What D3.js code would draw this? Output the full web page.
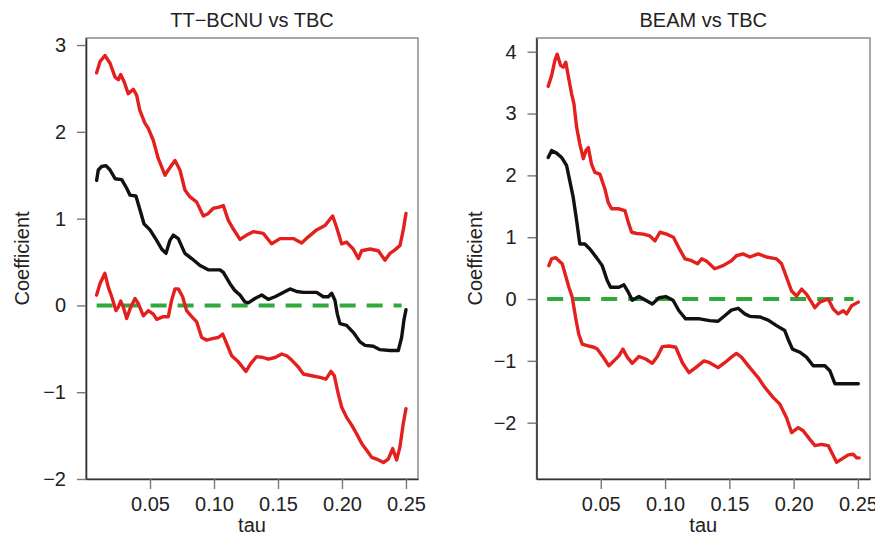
<!DOCTYPE html>
<html>
<head>
<meta charset="utf-8">
<script src="https://cdn.jsdelivr.net/npm/d3@7"></script>
<style>
  body { margin: 0; background: #fff; }
  text { font-family: "Liberation Sans", Arial, Helvetica, sans-serif; fill: #222; }
</style>
</head>
<body>
<div id="chart"></div>
<script>
var svgWidth = 875;
var svgHeight = 535;

// panel titles and tick labels
var panelTitles = ["TT\u2212BCNU vs TBC", "BEAM vs TBC"];
var xTicks = [0.05, 0.10, 0.15, 0.20, 0.25];
var yTicksLeft = [-2, -1, 0, 1, 2, 3];
var yTicksRight = [-2, -1, 0, 1, 2, 3, 4];
var zeroLine = [[0.0083, 0], [0.2466, 0]];

// TT-BCNU vs TBC : [tau, coefficient]
var ttUpper = [[0.0083,2.68],[0.011,2.81],[0.0148,2.88],[0.0188,2.79],[0.0227,2.63],[0.0253,2.60],[0.0271,2.66],[0.0297,2.58],[0.033,2.44],[0.037,2.49],[0.0396,2.42],[0.042,2.25],[0.046,2.10],[0.0487,2.04],[0.0526,1.90],[0.0565,1.69],[0.0617,1.50],[0.0643,1.56],[0.0695,1.67],[0.0734,1.56],[0.0773,1.33],[0.0813,1.25],[0.0865,1.19],[0.0917,1.03],[0.0956,1.06],[0.0995,1.12],[0.1034,1.13],[0.1073,1.15],[0.1112,0.98],[0.1151,0.88],[0.1203,0.76],[0.1255,0.81],[0.1307,0.85],[0.1385,0.83],[0.145,0.71],[0.1516,0.77],[0.162,0.77],[0.1685,0.72],[0.1737,0.79],[0.1802,0.87],[0.1867,0.92],[0.1927,1.03],[0.1958,0.90],[0.1997,0.71],[0.2036,0.73],[0.2088,0.65],[0.2128,0.54],[0.2154,0.63],[0.2219,0.65],[0.2284,0.63],[0.2336,0.52],[0.2375,0.60],[0.2414,0.64],[0.2453,0.69],[0.2479,0.87],[0.25,1.06]];
var ttCoef = [[0.0083,1.44],[0.0096,1.56],[0.0122,1.60],[0.0156,1.61],[0.0188,1.56],[0.0227,1.46],[0.0279,1.45],[0.0318,1.35],[0.0344,1.27],[0.039,1.26],[0.0422,1.10],[0.0453,0.94],[0.05,0.87],[0.0552,0.75],[0.0591,0.65],[0.0625,0.60],[0.0656,0.75],[0.0682,0.81],[0.0721,0.77],[0.0773,0.60],[0.0826,0.54],[0.0891,0.46],[0.0955,0.41],[0.1047,0.41],[0.1073,0.38],[0.1125,0.25],[0.1164,0.17],[0.1203,0.12],[0.1242,0.04],[0.1268,0.03],[0.132,0.08],[0.1373,0.12],[0.1424,0.07],[0.1477,0.10],[0.1541,0.15],[0.1594,0.19],[0.1646,0.16],[0.1698,0.15],[0.1802,0.15],[0.1854,0.10],[0.1893,0.10],[0.192,0.14],[0.1945,0.06],[0.1964,-0.10],[0.1984,-0.21],[0.2036,-0.23],[0.2088,-0.31],[0.2141,-0.42],[0.218,-0.46],[0.2245,-0.47],[0.2297,-0.51],[0.2375,-0.52],[0.244,-0.52],[0.2466,-0.37],[0.2484,-0.17],[0.25,-0.05]];
var ttLower = [[0.0083,0.12],[0.0109,0.25],[0.0148,0.37],[0.0174,0.21],[0.0201,0.10],[0.0234,-0.06],[0.0253,-0.02],[0.0271,0.05],[0.0292,-0.02],[0.0318,-0.15],[0.0349,-0.02],[0.0383,0.08],[0.0409,0.02],[0.0448,-0.12],[0.0487,-0.06],[0.0526,-0.10],[0.0552,-0.16],[0.0604,-0.13],[0.0643,-0.13],[0.0669,0.06],[0.0695,0.19],[0.0721,0.19],[0.0755,0.10],[0.0786,-0.06],[0.0826,-0.13],[0.0865,-0.19],[0.0904,-0.37],[0.0943,-0.40],[0.0995,-0.38],[0.1034,-0.37],[0.1068,-0.33],[0.1099,-0.44],[0.1138,-0.58],[0.119,-0.65],[0.125,-0.76],[0.1287,-0.67],[0.1333,-0.59],[0.1385,-0.60],[0.1424,-0.62],[0.1477,-0.60],[0.1529,-0.56],[0.1568,-0.58],[0.1607,-0.63],[0.1659,-0.71],[0.1698,-0.79],[0.1763,-0.81],[0.1828,-0.83],[0.1875,-0.85],[0.1914,-0.76],[0.194,-0.81],[0.1971,-1.02],[0.1997,-1.17],[0.2036,-1.29],[0.2076,-1.38],[0.2115,-1.48],[0.2154,-1.59],[0.2193,-1.67],[0.2232,-1.75],[0.2271,-1.77],[0.2323,-1.81],[0.2362,-1.77],[0.2396,-1.65],[0.2427,-1.78],[0.2453,-1.63],[0.2479,-1.36],[0.25,-1.19]];

// BEAM vs TBC : [tau, coefficient]
var beamUpper = [[0.0091,3.44],[0.0117,3.61],[0.0143,3.86],[0.0161,3.96],[0.0187,3.78],[0.0208,3.75],[0.0228,3.83],[0.0247,3.61],[0.0273,3.32],[0.0291,3.16],[0.0312,2.78],[0.0337,2.51],[0.0364,2.27],[0.0384,2.40],[0.0403,2.45],[0.0428,2.18],[0.0454,2.05],[0.0493,2.02],[0.0532,1.78],[0.0558,1.56],[0.0584,1.46],[0.0636,1.46],[0.0688,1.43],[0.0714,1.24],[0.074,1.08],[0.0779,1.06],[0.0831,1.05],[0.0882,1.02],[0.0921,0.94],[0.096,1.08],[0.1012,1.05],[0.1065,1.00],[0.1104,0.84],[0.1155,0.65],[0.1207,0.62],[0.1252,0.57],[0.1285,0.65],[0.1324,0.61],[0.1386,0.49],[0.1451,0.54],[0.1516,0.62],[0.1555,0.70],[0.1607,0.73],[0.1659,0.68],[0.1724,0.73],[0.1789,0.68],[0.1867,0.65],[0.1906,0.57],[0.1945,0.35],[0.1984,0.13],[0.2023,0.05],[0.2062,0.16],[0.21,0.08],[0.2139,-0.05],[0.2165,-0.14],[0.2204,-0.05],[0.2269,0.00],[0.2308,-0.16],[0.2347,-0.24],[0.2386,-0.19],[0.2412,-0.24],[0.2451,-0.11],[0.2503,-0.05]];
var beamCoef = [[0.0091,2.29],[0.0117,2.40],[0.0156,2.36],[0.0195,2.29],[0.0234,2.16],[0.0259,1.91],[0.0286,1.64],[0.0312,1.27],[0.0337,0.89],[0.0376,0.89],[0.0415,0.81],[0.0467,0.67],[0.0511,0.54],[0.055,0.30],[0.0576,0.19],[0.0641,0.19],[0.068,0.23],[0.0714,0.11],[0.0745,-0.02],[0.0797,0.04],[0.0849,-0.02],[0.0901,-0.08],[0.0953,0.02],[0.1005,0.04],[0.1062,-0.02],[0.1108,-0.19],[0.116,-0.32],[0.1213,-0.32],[0.1269,-0.32],[0.1347,-0.35],[0.1412,-0.36],[0.1464,-0.27],[0.1516,-0.18],[0.1568,-0.15],[0.162,-0.24],[0.1659,-0.28],[0.1737,-0.29],[0.1802,-0.34],[0.1867,-0.43],[0.1931,-0.51],[0.1957,-0.65],[0.1991,-0.81],[0.2048,-0.86],[0.21,-0.94],[0.2152,-1.08],[0.2243,-1.08],[0.2282,-1.16],[0.2321,-1.37],[0.2412,-1.37],[0.2503,-1.37]];
var beamLower = [[0.0096,0.54],[0.0117,0.65],[0.0148,0.67],[0.0174,0.62],[0.02,0.57],[0.0226,0.38],[0.0252,0.19],[0.0278,0.03],[0.0304,-0.30],[0.0329,-0.57],[0.0356,-0.73],[0.0407,-0.76],[0.0446,-0.78],[0.0473,-0.81],[0.0512,-0.92],[0.0563,-1.08],[0.0602,-1.00],[0.0641,-0.92],[0.0672,-0.81],[0.0706,-0.94],[0.0745,-1.04],[0.0797,-0.93],[0.0849,-0.97],[0.0901,-1.04],[0.094,-0.93],[0.0979,-0.77],[0.103,-0.76],[0.1083,-0.78],[0.1135,-1.03],[0.1186,-1.19],[0.1238,-1.11],[0.1303,-1.00],[0.1347,-1.03],[0.1412,-1.11],[0.1464,-1.03],[0.1516,-0.94],[0.1555,-0.88],[0.1594,-0.94],[0.1659,-1.11],[0.1724,-1.27],[0.1776,-1.43],[0.184,-1.59],[0.1893,-1.70],[0.1945,-1.92],[0.1984,-2.16],[0.2036,-2.08],[0.2074,-2.13],[0.2126,-2.27],[0.2165,-2.37],[0.2217,-2.35],[0.2269,-2.37],[0.2295,-2.48],[0.2334,-2.64],[0.2373,-2.59],[0.2425,-2.52],[0.2463,-2.51],[0.249,-2.57],[0.251,-2.57]];

var panels = [
  { title: panelTitles[0], left: 86, right: 418, yDomain: [-2, 3.081], yTicks: yTicksLeft,
    ylabX: 22, upper: ttUpper, coef: ttCoef, lower: ttLower },
  { title: panelTitles[1], left: 536.5, right: 870, yDomain: [-2.911, 4.222], yTicks: yTicksRight,
    ylabX: 475, upper: beamUpper, coef: beamCoef, lower: beamLower }
];
var plotTop = 38, plotBottom = 479;
var fontSize = 20;

var svg = d3.select("#chart")
  .append("svg")
  .attr("width", svgWidth)
  .attr("height", svgHeight);

panels.forEach(function (p) {
  var x = d3.scaleLinear().domain([0, 0.2594]).range([p.left, p.right]);
  var y = d3.scaleLinear().domain(p.yDomain).range([plotBottom, plotTop]);

  var g = svg.append("g");

  // box
  g.append("rect")
    .attr("x", p.left).attr("y", plotTop)
    .attr("width", p.right - p.left).attr("height", plotBottom - plotTop)
    .attr("fill", "none").attr("stroke", "#8c8c8c").attr("stroke-width", 1.5);

  // axes
  var xAxis = g.append("g")
    .attr("transform", `translate(0, ${plotBottom})`)
    .call(d3.axisBottom(x).tickValues(xTicks).tickFormat(d3.format(".2f"))
      .tickSize(10).tickSizeOuter(0).tickPadding(8));
  var yAxis = g.append("g")
    .attr("transform", `translate(${p.left}, 0)`)
    .call(d3.axisLeft(y).tickValues(p.yTicks).tickFormat(d3.format("d"))
      .tickSize(9).tickSizeOuter(0).tickPadding(11));

  [xAxis, yAxis].forEach(function (a) {
    a.select(".domain").attr("stroke", "#333").attr("stroke-width", 1.6);
    a.selectAll(".tick line").attr("stroke", "#777").attr("stroke-width", 1.4);
    a.selectAll(".tick text")
      .attr("font-size", fontSize)
      .attr("font-family", "Liberation Sans, Arial, sans-serif")
      .attr("fill", "#222");
  });

  var line = d3.line().x(d => x(d[0])).y(d => y(d[1]));

  // zero reference
  g.append("path")
    .datum(zeroLine)
    .attr("d", line)
    .attr("fill", "none")
    .attr("stroke", "#2faa3a")
    .attr("stroke-width", 4)
    .attr("stroke-dasharray", "16,11");

  // confidence bands and estimate
  [[p.upper, "#e4201f"], [p.lower, "#e4201f"], [p.coef, "#111"]].forEach(function (s) {
    g.append("path")
      .datum(s[0])
      .attr("d", line)
      .attr("fill", "none")
      .attr("stroke", s[1])
      .attr("stroke-width", 3.4)
      .attr("stroke-linejoin", "round")
      .attr("stroke-linecap", "round");
  });

  // labels
  g.append("text")
    .attr("x", (p.left + p.right) / 2)
    .attr("y", 27)
    .attr("text-anchor", "middle")
    .attr("font-size", fontSize)
    .text(p.title);

  g.append("text")
    .attr("x", (p.left + p.right) / 2)
    .attr("y", 532)
    .attr("text-anchor", "middle")
    .attr("font-size", fontSize)
    .text("tau");

  g.append("text")
    .attr("transform", `translate(${p.ylabX + 7}, ${(plotTop + plotBottom) / 2}) rotate(-90)`)
    .attr("text-anchor", "middle")
    .attr("font-size", fontSize)
    .text("Coefficient");
});
</script>
</body>
</html>
